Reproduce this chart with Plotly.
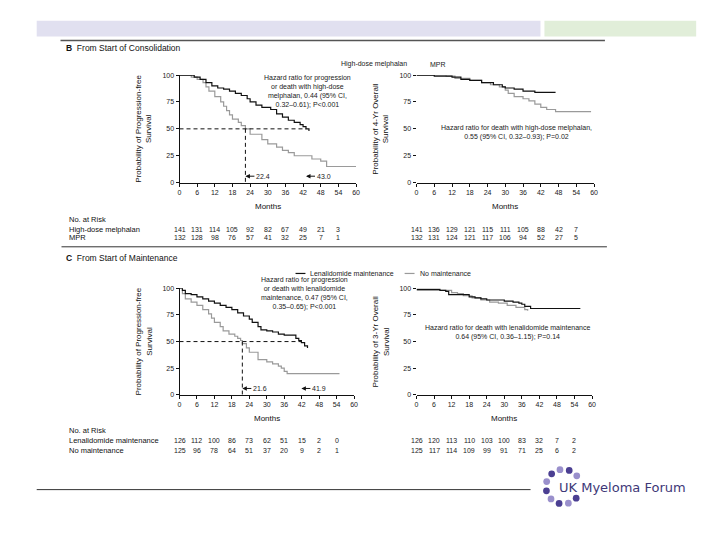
import math
import plotly.graph_objects as go

W, H = 720, 540
def fx(p): return p / W
def fy(p): return 1 - p / H

# ---------------- data ----------------
month_ticks = [0, 6, 12, 18, 24, 30, 36, 42, 48, 54, 60]
risk_months = [0, 6, 12, 18, 24, 30, 36, 42, 48, 54]
pct_ticks = [0, 25, 50, 75, 100]

# Panel B, progression-free survival
b_pfs_hdm_t = [0, 5, 7, 9, 11, 13, 15, 17, 19, 21, 23, 24, 26, 28, 31, 33, 35, 37, 39, 41, 42, 43, 44]
b_pfs_hdm_s = [100, 98, 96, 93, 90, 88, 87, 85, 83, 81, 78, 75, 72, 70, 68, 64, 61, 58, 56, 54, 52, 50, 48]
b_pfs_mpr_t = [0, 4, 6, 8, 9, 10, 12, 14, 15, 16, 17, 18, 20, 21, 22.4, 24, 27, 28, 30, 33, 35, 37, 39, 43, 45, 48, 50, 60]
b_pfs_mpr_s = [100, 98, 96, 93, 89, 85, 80, 75, 71, 67, 63, 59, 56, 53, 50, 45, 45, 40, 36, 33, 30, 28, 25, 25, 22, 20, 15, 15]
b_pfs_medians = [22.4, 43.0]

# Panel B, overall survival
b_os_hdm_t = [0, 6, 12, 15, 18, 22, 26, 29, 30, 33, 36, 38, 40, 47]
b_os_hdm_s = [100, 99, 98, 96, 95, 93, 91, 89, 88, 87, 85, 85, 84, 84]
b_os_mpr_t = [0, 10, 13, 18, 22, 25, 28, 30, 31, 33, 36, 38, 40, 42, 44, 47, 59]
b_os_mpr_s = [100, 99, 97, 95, 93, 91, 89, 86, 83, 80, 78, 76, 73, 70, 68, 66, 66]

# Panel C, progression-free survival
c_pfs_len_t = [0, 1, 2, 4, 6, 8, 10, 12, 14, 16, 18, 20, 22, 24, 25, 27, 28, 30, 32, 34, 36, 40, 41, 41.9, 43, 44]
c_pfs_len_s = [100, 98, 95, 94, 92, 90, 88, 86, 84, 82, 80, 77, 74, 71, 68, 64, 61, 60, 59, 57, 56, 53, 51, 49, 46, 44]
c_pfs_no_t = [0, 1, 2, 4, 6, 8, 10, 11, 12, 14, 15, 17, 19, 20, 21, 21.6, 23, 24, 27, 30, 32, 34, 35, 36, 37, 55]
c_pfs_no_s = [100, 95, 90, 87, 84, 80, 76, 72, 68, 64, 60, 57, 55, 53, 51, 48, 44, 40, 33, 31, 29, 27, 25, 22, 20, 20]
c_pfs_medians = [21.6, 41.9]

# Panel C, overall survival
c_os_len_t = [0, 8, 10, 11, 18, 20, 22, 24, 30, 33, 35, 36, 37, 39, 56]
c_os_len_s = [99, 98, 97, 94, 92, 91, 90, 89, 88, 87, 86, 85, 83, 81, 81]
c_os_no_t = [0, 10, 12, 14, 16, 19, 22, 25, 28, 31, 34, 37, 38]
c_os_no_s = [98, 98, 96, 95, 93, 91, 89, 87, 86, 84, 82, 80, 79]

# Numbers at risk
b_risk_hdm_pfs = [141, 131, 114, 105, 92, 82, 67, 49, 21, 3]
b_risk_mpr_pfs = [132, 128, 98, 76, 57, 41, 32, 25, 7, 1]
b_risk_hdm_os = [141, 136, 129, 121, 115, 111, 105, 88, 42, 7]
b_risk_mpr_os = [132, 131, 124, 121, 117, 106, 94, 52, 27, 5]
c_risk_len_pfs = [126, 112, 100, 86, 73, 62, 51, 15, 2, 0]
c_risk_no_pfs = [125, 96, 78, 64, 51, 37, 20, 9, 2, 1]
c_risk_len_os = [126, 120, 113, 110, 103, 100, 83, 32, 7, 2]
c_risk_no_os = [125, 117, 114, 109, 99, 91, 71, 25, 6, 2]

# ---------------- styling ----------------
FONT = "Liberation Sans"
BLACK = "#111111"
GRAY = "#9a9a9a"
TXT = "#222222"

fig = go.Figure()

panels = {
    # name: (xaxis, yaxis, x0px, x1px, ytop, ybot, show_yline)
    "bp": ("x", "y", 179, 357, 72, 181, True),
    "bo": ("x2", "y2", 418, 597, 72, 181, False),
    "cp": ("x3", "y3", 179, 355, 288, 396, True),
    "co": ("x4", "y4", 418, 595, 288, 396, False),
}

def add_curve(panel, t, s, color):
    xa, ya = panels[panel][0], panels[panel][1]
    fig.add_trace(go.Scatter(x=t, y=s, mode="lines", line=dict(color=color, width=1.2, shape="hv"),
                             xaxis=xa, yaxis=ya, showlegend=False, hoverinfo="skip"))

add_curve("bp", b_pfs_mpr_t, b_pfs_mpr_s, GRAY)
add_curve("bp", b_pfs_hdm_t, b_pfs_hdm_s, BLACK)
add_curve("bo", b_os_mpr_t, b_os_mpr_s, GRAY)
add_curve("bo", b_os_hdm_t, b_os_hdm_s, BLACK)
add_curve("cp", c_pfs_no_t, c_pfs_no_s, GRAY)
add_curve("cp", c_pfs_len_t, c_pfs_len_s, BLACK)
add_curve("co", c_os_no_t, c_os_no_s, GRAY)
add_curve("co", c_os_len_t, c_os_len_s, BLACK)

layout_axes = {}
for i, (name, (xa, ya, x0, x1, yt, yb, yline)) in enumerate(panels.items()):
    xkey = "xaxis" if xa == "x" else "xaxis" + xa[1:]
    ykey = "yaxis" if ya == "y" else "yaxis" + ya[1:]
    layout_axes[xkey] = dict(domain=[fx(x0), fx(x1)], anchor=ya, range=[0, 60], tickvals=month_ticks,
                             showline=True, linecolor="#111", linewidth=1, ticks="outside", ticklen=3,
                             tickcolor="#111", showgrid=False, zeroline=False,
                             tickfont=dict(family=FONT, size=7, color=TXT), fixedrange=True)
    layout_axes[ykey] = dict(domain=[fy(yb), fy(yt)], anchor=xa, range=[0, 100], tickvals=pct_ticks,
                             showline=yline, linecolor="#111", linewidth=1, ticks="outside", ticklen=3,
                             tickcolor="#111", showgrid=False, zeroline=False,
                             tickfont=dict(family=FONT, size=7, color=TXT), fixedrange=True)

shapes = []
annotations = []

def ann(x, y, text, size=7, xanchor="center", yanchor="middle", color=TXT, xref="paper", yref="paper", **kw):
    annotations.append(dict(x=x, y=y, xref=xref, yref=yref, text=text, showarrow=False,
                            xanchor=xanchor, yanchor=yanchor,
                            font=dict(family=FONT, size=size, color=color), **kw))

# medians: dashed lines and arrows
for panel, meds in (("bp", b_pfs_medians), ("cp", c_pfs_medians)):
    xa, ya = panels[panel][0], panels[panel][1]
    shapes.append(dict(type="line", xref=xa, yref=ya, x0=0, x1=max(meds), y0=50, y1=50,
                       line=dict(color="#111", width=1, dash="4px,3px")))
    shapes.append(dict(type="line", xref=xa, yref=ya, x0=min(meds), x1=min(meds), y0=50, y1=0,
                       line=dict(color="#111", width=1, dash="4px,3px")))
    for m in meds:
        annotations.append(dict(x=m, y=6, xref=xa, yref=ya, text="%.1f" % m, showarrow=True,
                                ax=9, ay=0, arrowhead=2, arrowsize=0.9, arrowwidth=1, arrowcolor="#111",
                                standoff=0, xanchor="left",
                                font=dict(family=FONT, size=7, color=TXT)))

# axis titles
for panel, title in (("bp", "Probability of Progression-free<br>Survival"),
                     ("bo", "Probability of 4-Yr Overall<br>Survival"),
                     ("cp", "Probability of Progression-free<br>Survival"),
                     ("co", "Probability of 3-Yr Overall<br>Survival")):
    xa, ya, x0, x1, yt, yb, _ = panels[panel]
    ann(fx(x0 - 36), fy((yt + yb) / 2), title, size=8, textangle=-90, color="#111")
    ann(fx((x0 + x1) / 2), fy(yb + 24), "Months", size=8, color="#111")

# hazard ratio notes
ann(fx(308), fy(89), "Hazard ratio for progression<br>or death with high-dose<br>melphalan, 0.44 (95% CI,<br>0.32–0.61); P<0.001", size=7)
ann(fx(519), fy(130), "Hazard ratio for death with high-dose melphalan,<br>0.55 (95% CI, 0.32–0.93); P=0.02", size=7)
ann(fx(305), fy(293), "Hazard ratio for progression<br>or death with lenalidomide<br>maintenance, 0.47 (95% CI,<br>0.35–0.65); P<0.001", size=7)
ann(fx(510), fy(333), "Hazard ratio for death with lenalidomide maintenance<br>0.64 (95% CI, 0.36–1.15); P=0.14", size=7)

# section headings
ann(fx(63), fy(45), "<b>B</b>  From Start of Consolidation", size=8.5, xanchor="left", color="#111")
ann(fx(63), fy(257), "<b>C</b>  From Start of Maintenance", size=8.5, xanchor="left", color="#111")

# legends
ann(fx(340), fy(61), "High-dose melphalan", size=7, xanchor="left")
ann(fx(430), fy(61), "MPR", size=7, xanchor="left")
shapes.append(dict(type="line", xref="paper", yref="paper", x0=fx(296), x1=fx(306), y0=fy(273), y1=fy(273),
                   line=dict(color=BLACK, width=1.2)))
ann(fx(309), fy(273), "Lenalidomide maintenance", size=7, xanchor="left")
shapes.append(dict(type="line", xref="paper", yref="paper", x0=fx(406), x1=fx(416), y0=fy(273), y1=fy(273),
                   line=dict(color=GRAY, width=1.2)))
ann(fx(419), fy(273), "No maintenance", size=7, xanchor="left")

# numbers at risk
def risk_rows(label_rows, y_head, rows):
    ann(fx(66), fy(y_head), "No. at Risk", size=7.5, xanchor="left", color="#111")
    for (label, ypx) in label_rows:
        ann(fx(66), fy(ypx), label, size=7.5, xanchor="left", color="#111")
    for (xa, vals, ypx) in rows:
        for m, v in zip(risk_months, vals):
            annotations.append(dict(x=m, y=fy(ypx), xref=xa, yref="paper", text=str(v), showarrow=False,
                                    xanchor="center", yanchor="middle",
                                    font=dict(family=FONT, size=7, color=TXT)))

risk_rows([("High-dose melphalan", 228), ("MPR", 237)], 218,
          [("x", b_risk_hdm_pfs, 228), ("x", b_risk_mpr_pfs, 237),
           ("x2", b_risk_hdm_os, 228), ("x2", b_risk_mpr_os, 237)])
risk_rows([("Lenalidomide maintenance", 442), ("No maintenance", 452)], 432,
          [("x3", c_risk_len_pfs, 442), ("x3", c_risk_no_pfs, 452),
           ("x4", c_risk_len_os, 442), ("x4", c_risk_no_os, 452)])

# slide decoration
shapes.append(dict(type="rect", xref="paper", yref="paper", x0=fx(35), x1=fx(543), y0=fy(33), y1=fy(17),
                   fillcolor="#e1e0f0", line=dict(width=0), layer="below"))
shapes.append(dict(type="rect", xref="paper", yref="paper", x0=fx(547), x1=fx(700), y0=fy(33), y1=fy(17),
                   fillcolor="#e1eed9", line=dict(width=0), layer="below"))
shapes.append(dict(type="line", xref="paper", yref="paper", x0=fx(59), x1=fx(608), y0=fy(37), y1=fy(37),
                   line=dict(color="#555555", width=1.5)))
shapes.append(dict(type="line", xref="paper", yref="paper", x0=fx(60), x1=fx(610), y0=fy(246), y1=fy(246),
                   line=dict(color="#333333", width=1)))
shapes.append(dict(type="line", xref="paper", yref="paper", x0=fx(35), x1=fx(533), y0=fy(492), y1=fy(492),
                   line=dict(color="#333333", width=1)))

# logo: ring of dots + text
cx, cy, r, dr = 566, 489, 17.5, 3.4
for k in range(10):
    ang = math.radians(39 + k * 31)
    px = cx + r * math.cos(ang)
    py = cy - r * math.sin(ang)
    col = "#9a90cc" if k % 2 == 0 else "#4b3f92"
    shapes.append(dict(type="circle", xref="paper", yref="paper",
                       x0=fx(px - dr), x1=fx(px + dr), y0=fy(py + dr), y1=fy(py - dr),
                       fillcolor=col, line=dict(width=0)))
annotations.append(dict(x=fx(560), y=fy(490), xref="paper", yref="paper", text="UK Myeloma Forum",
                        showarrow=False, xanchor="left", yanchor="middle",
                        font=dict(family="DejaVu Sans", size=13, color="#3e3878")))

fig.update_layout(width=W, height=H, margin=dict(l=0, r=0, t=0, b=0),
                  paper_bgcolor="white", plot_bgcolor="white", showlegend=False,
                  shapes=shapes, annotations=annotations, **layout_axes)

fig.write_html("out.html", config={"displayModeBar": False, "staticPlot": True},
               post_script="document.body.style.margin='0';document.body.style.padding='0';")
